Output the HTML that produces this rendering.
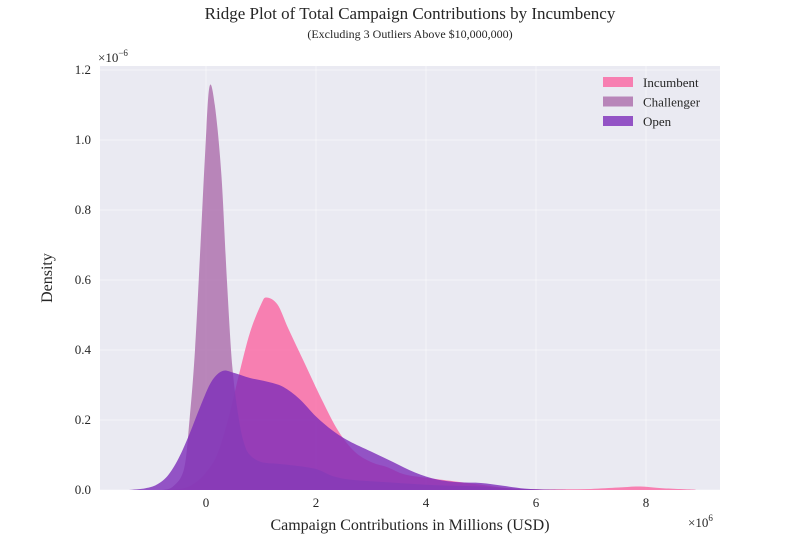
<!DOCTYPE html>
<html><head><meta charset="utf-8"><style>
body{margin:0;background:#fff}
svg text{font-family:"Liberation Serif",serif;fill:#262626}
</style></head><body>
<svg id="c" width="800" height="550">
<text x="410" y="19" font-size="17" text-anchor="middle">Ridge Plot of Total Campaign Contributions by Incumbency</text>
<text x="410" y="38" font-size="12" text-anchor="middle">(Excluding 3 Outliers Above $10,000,000)</text>
<rect x="100" y="66" width="620" height="424" fill="#eaeaf2"/>
<g id="grid"></g><g id="areas"></g><g id="ticks"></g>
<text x="410" y="530" font-size="16" text-anchor="middle">Campaign Contributions in Millions (USD)</text>
<text x="52" y="278" font-size="16" text-anchor="middle" transform="rotate(-90 52 278)">Density</text>
<text x="98" y="62" font-size="13">×10<tspan dy="-6" font-size="9">−6</tspan></text>
<text x="688" y="527" font-size="13">×10<tspan dy="-6" font-size="9">6</tspan></text>
<g id="legend"></g>
</svg>
<script>
const names=["Incumbent","Challenger","Open"];
const colors=["rgba(250,100,160,0.8)","rgba(175,115,175,0.85)","rgba(125,45,185,0.8)"];
const incX=[-0.7,-0.4,-0.2,0,0.2,0.4,0.6,0.8,1.0,1.1,1.3,1.5,1.8,2.1,2.4,2.7,3.0,3.3,3.6,4.0,4.5,5.0,5.5,6.0,6.5,7.0,7.5,7.9,8.3,8.9];
const incY=[0,0.005,0.02,0.05,0.1,0.2,0.33,0.45,0.53,0.55,0.53,0.46,0.36,0.26,0.17,0.11,0.08,0.065,0.045,0.035,0.025,0.015,0.005,0.002,0.002,0.003,0.007,0.01,0.005,0.001];
const chX=[-0.8,-0.6,-0.4,-0.3,-0.2,-0.1,-0.02,0.06,0.16,0.28,0.38,0.48,0.6,0.7,0.8,1.0,1.3,1.6,2.0,2.3,2.6,3.0,3.5,4.0,4.5,5.0,5.5,6.0,6.5];
const chY=[0,0.01,0.06,0.2,0.4,0.7,0.95,1.15,1.1,0.9,0.6,0.35,0.2,0.13,0.1,0.08,0.075,0.07,0.06,0.04,0.03,0.025,0.02,0.015,0.012,0.01,0.005,0.002,0];
const opX=[-1.4,-1.1,-0.9,-0.7,-0.5,-0.3,-0.1,0.1,0.3,0.5,0.8,1.1,1.4,1.7,2.0,2.3,2.6,3.0,3.4,3.8,4.2,4.6,5.0,5.4,5.8,6.2,6.6];
const opY=[0,0.005,0.015,0.04,0.09,0.16,0.24,0.31,0.34,0.335,0.32,0.31,0.295,0.26,0.21,0.17,0.14,0.11,0.08,0.05,0.03,0.022,0.02,0.012,0.004,0.001,0];
const xTicks=[0,2,4,6,8];
const yTicks=[0,0.2,0.4,0.6,0.8,1.0,1.2];
const sx=v=>206+55*v, sy=d=>490-350*d;
const NS="http://www.w3.org/2000/svg";
function mk(t,a,p){const e=document.createElementNS(NS,t);for(const k in a)e.setAttribute(k,a[k]);p.appendChild(e);return e;}
const grid=document.getElementById('grid'),ticks=document.getElementById('ticks');
xTicks.forEach(v=>{
 const l=mk('line',{x1:sx(v),x2:sx(v),y1:66,y2:490,stroke:'#fff','stroke-width':1,opacity:0.5},grid);
 
 const t=mk('text',{x:sx(v),y:507,'font-size':13,'text-anchor':'middle'},ticks);t.textContent=v;
 
});
yTicks.forEach(v=>{
 const l=mk('line',{x1:100,x2:720,y1:sy(v),y2:sy(v),stroke:'#fff','stroke-width':1,opacity:0.5},grid);
 
 const t=mk('text',{x:91,y:sy(v)+4,'font-size':13,'text-anchor':'end'},ticks);t.textContent=v.toFixed(1);
 
});
function path(xs,ys){
 const p=xs.map((x,i)=>[sx(x),sy(ys[i])]);
 let d='M'+p[0][0]+','+sy(0)+' L'+p[0][0]+','+p[0][1];
 for(let i=0;i<p.length-1;i++){
  const p0=p[Math.max(0,i-1)],p1=p[i],p2=p[i+1],p3=p[Math.min(p.length-1,i+2)];
  let c1y=p1[1]+(p2[1]-p0[1])/6,c2y=p2[1]-(p3[1]-p1[1])/6;
  c1y=Math.min(c1y,sy(0));c2y=Math.min(c2y,sy(0));
  d+=` C${p1[0]+(p2[0]-p0[0])/6},${c1y} ${p2[0]-(p3[0]-p1[0])/6},${c2y} ${p2[0]},${p2[1]}`;
 }
 return d+` L${p[p.length-1][0]},${sy(0)} Z`;
}
const areas=document.getElementById('areas');
const sets=[[incX,incY],[chX,chY],[opX,opY]];
const keys=['incumbent','challenger','open'];
sets.forEach((s,i)=>{
 const e=mk('path',{d:path(s[0],s[1]),fill:colors[i]},areas);
 
});
const lg=document.getElementById('legend');
names.forEach((n,i)=>{
 const r=mk('rect',{x:603,y:77+i*19.5,width:30,height:10,fill:colors[i]},lg);
 
 const t=mk('text',{x:643,y:87+i*19.5,'font-size':13},lg);t.textContent=n;
 
});
</script>
</body></html>
